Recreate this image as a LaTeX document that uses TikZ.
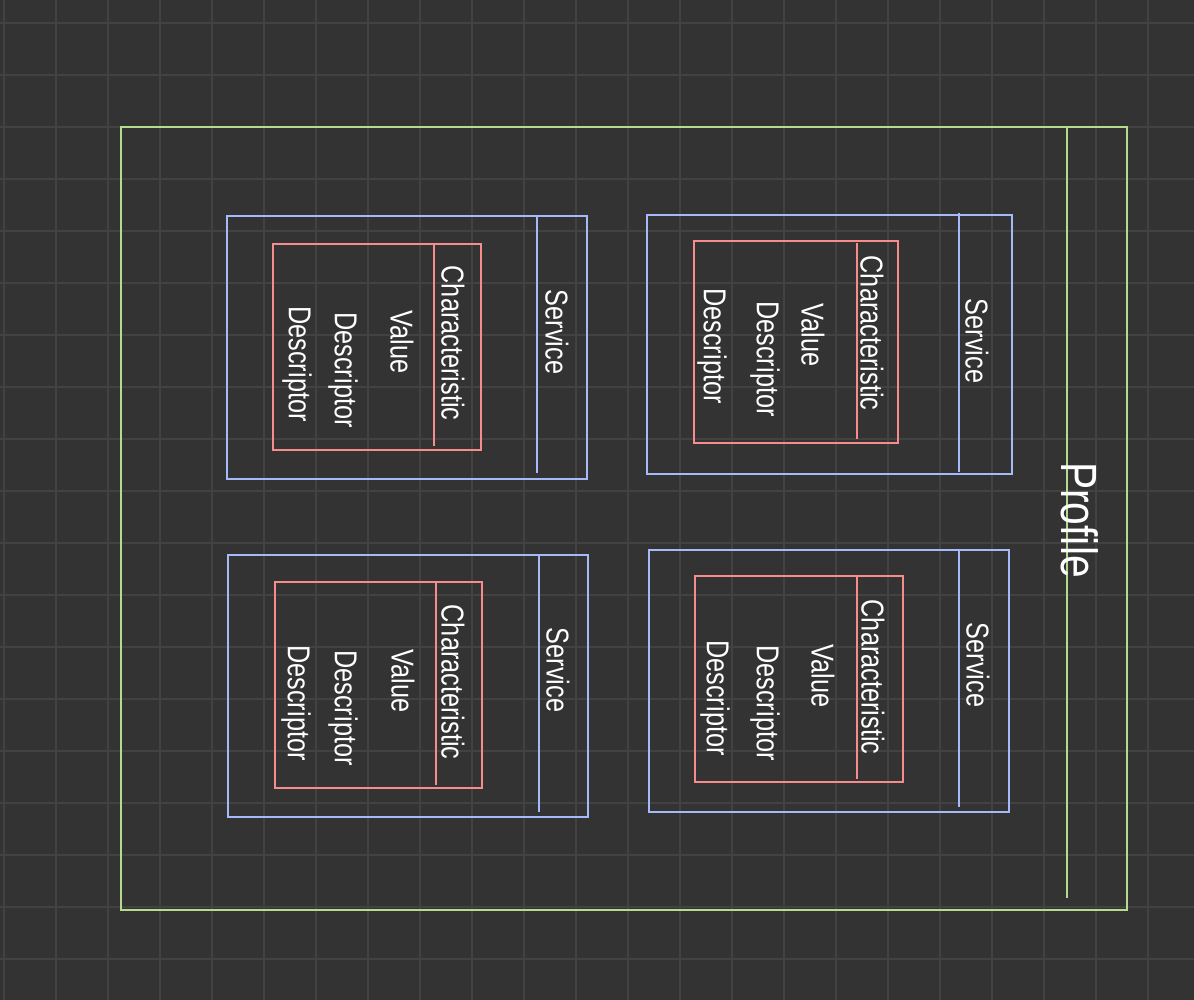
\documentclass[tikz,border=0pt]{standalone}
\usepackage{fontspec}
\setmainfont[FakeStretch=0.8]{Liberation Sans}
\usepackage{tikz}
\definecolor{bgcol}{HTML}{333333}
\definecolor{gridcol}{HTML}{424242}
\definecolor{profgreen}{HTML}{B5DB8F}
\definecolor{servblue}{HTML}{A6B9F9}
\definecolor{charred}{HTML}{F78C8C}
\tikzset{
  gridline/.style={draw=gridcol,line width=1.1pt},
  profbox/.style={draw=profgreen,line width=1.6pt},
  servbox/.style={draw=servblue,line width=1.6pt},
  charbox/.style={draw=charred,line width=1.6pt},
  label/.style={text=white,rotate=-90,inner sep=0pt,font=\fontsize{18}{20}\selectfont},
  biglabel/.style={text=white,rotate=-90,inner sep=0pt,font=\fontsize{29}{31}\selectfont}
}

\begin{document}
\begin{tikzpicture}[x=0.02cm,y=-0.02cm]
\fill[bgcol](0,0)rectangle(1194,1000);
\useasboundingbox(0,0)rectangle(1194,1000);
\foreach \gx in {4,56,...,1190}
  \draw[gridline](\gx,0)--(\gx,1000);
\foreach \gy in {23,75,...,1000}
  \draw[gridline](0,\gy)--(1194,\gy);

\draw[profbox](121,127)rectangle(1127,910);
\draw[profbox](1067,127)--(1067,898);
\node[biglabel] (profile) at (1080,520){Profile};

\draw[servbox](227,216)rectangle(587,479);
\draw[servbox](537,216)--(537,473);
\node[label] (serv1) at (557,332){Service};
\draw[charbox](273,244)rectangle(481,450);
\draw[charbox](434,244)--(434,446);
\node[label] (char1) at (453,343){Characteristic};
\node[label] (val1) at (402,342){Value};
\node[label] (vdesc1) at (343,370){Descriptor};
\node[label] (desc1) at (297,364){Descriptor};

\draw[servbox](647,215)rectangle(1012,474);
\draw[servbox](959,213)--(959,472);
\node[label] (serv2) at (977,341){Service};
\draw[charbox](694,241)rectangle(898,443);
\draw[charbox](857,243)--(857,439);
\node[label] (char2) at (872,333){Characteristic};
\node[label] (val2) at (813,335){Value};
\node[label] (vdesc2) at (765,359){Descriptor};
\node[label] (desc2) at (712,346){Descriptor};

\draw[servbox](228,555)rectangle(588,817);
\draw[servbox](539,555)--(539,812);
\node[label] (serv3) at (558,670){Service};
\draw[charbox](275,582)rectangle(482,788);
\draw[charbox](436,582)--(436,785);
\node[label] (char3) at (453,682){Characteristic};
\node[label] (val3) at (403,681){Value};
\node[label] (vdesc3) at (343,708){Descriptor};
\node[label] (desc3) at (296,703){Descriptor};

\draw[servbox](649,550)rectangle(1009,812);
\draw[servbox](959,550)--(959,807);
\node[label] (serv4) at (978,665){Service};
\draw[charbox](695,576)rectangle(903,782);
\draw[charbox](857,576)--(857,779);
\node[label] (char4) at (873,677){Characteristic};
\node[label] (val4) at (823,676){Value};
\node[label] (vdesc4) at (765,703){Descriptor};
\node[label] (desc4) at (715,698){Descriptor};
\end{tikzpicture}
\end{document}
